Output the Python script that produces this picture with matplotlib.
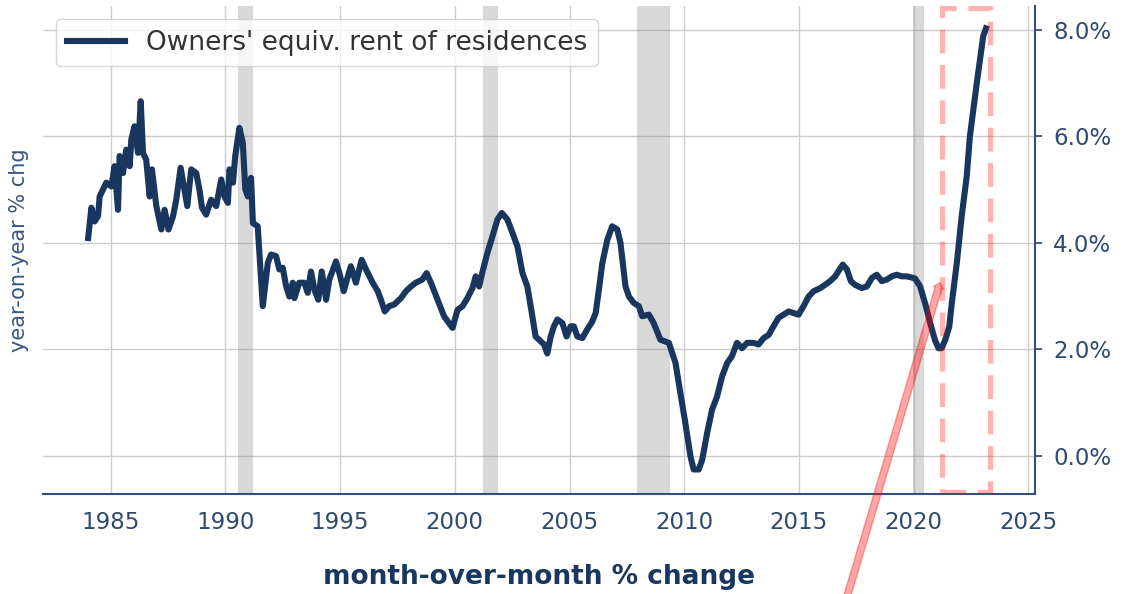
import matplotlib.pyplot as plt
from matplotlib.patches import Rectangle
from matplotlib.ticker import FuncFormatter

# OER year-on-year % change (decimal year, %)
years = [1984.02, 1984.16, 1984.30, 1984.45, 1984.52, 1984.81, 1985.03, 1985.17, 1985.32, 1985.39,
         1985.54, 1985.68, 1985.83, 1985.90, 1986.04, 1986.19, 1986.31, 1986.41, 1986.55, 1986.70,
         1986.80, 1986.99, 1987.21, 1987.35, 1987.52, 1987.72, 1987.86, 1988.05, 1988.19, 1988.34,
         1988.51, 1988.73, 1988.87, 1988.98, 1989.16, 1989.38, 1989.60, 1989.82, 1989.96, 1990.11,
         1990.18, 1990.33, 1990.43, 1990.61, 1990.76, 1990.87, 1990.98, 1991.12, 1991.20, 1991.41,
         1991.63, 1991.85, 1991.99, 1992.21, 1992.35, 1992.50, 1992.65, 1992.79, 1992.94, 1993.01,
         1993.22, 1993.44, 1993.59, 1993.73, 1993.88, 1994.05, 1994.20, 1994.39, 1994.53, 1994.82,
         1994.97, 1995.16, 1995.30, 1995.47, 1995.69, 1995.94, 1996.13, 1996.42, 1996.64, 1996.78,
         1996.95, 1997.14, 1997.36, 1997.65, 1997.87, 1998.09, 1998.30, 1998.59, 1998.77, 1998.96,
         1999.25, 1999.53, 1999.90, 2000.12, 2000.34, 2000.55, 2000.77, 2000.91, 2001.06, 2001.21,
         2001.42, 2001.64, 2001.86, 2002.05, 2002.29, 2002.51, 2002.73, 2002.95, 2003.16, 2003.38,
         2003.52, 2003.74, 2003.89, 2004.03, 2004.18, 2004.32, 2004.47, 2004.69, 2004.87, 2005.05,
         2005.19, 2005.34, 2005.56, 2005.77, 2005.99, 2006.14, 2006.28, 2006.43, 2006.65, 2006.86,
         2007.08, 2007.22, 2007.34, 2007.44, 2007.59, 2007.80, 2008.02, 2008.17, 2008.46, 2008.67,
         2008.96, 2009.33, 2009.62, 2009.83, 2010.05, 2010.27, 2010.41, 2010.63, 2010.78, 2011.00,
         2011.21, 2011.43, 2011.65, 2011.87, 2012.08, 2012.30, 2012.52, 2012.74, 2013.02, 2013.24,
         2013.46, 2013.68, 2013.89, 2014.11, 2014.33, 2014.55, 2014.77, 2014.98, 2015.20, 2015.42,
         2015.64, 2015.93, 2016.14, 2016.36, 2016.58, 2016.77, 2016.91, 2017.09, 2017.26, 2017.45,
         2017.74, 2017.96, 2018.18, 2018.39, 2018.61, 2018.83, 2019.05, 2019.26, 2019.48, 2019.70,
         2020.06, 2020.28, 2020.50, 2020.72, 2020.93, 2021.08, 2021.22, 2021.37, 2021.55, 2021.66,
         2021.88, 2022.09, 2022.31, 2022.45, 2022.60, 2022.75, 2022.89, 2023.03, 2023.15]
oer = [4.09, 4.66, 4.40, 4.50, 4.87, 5.13, 5.06, 5.44, 4.62, 5.63,
       5.31, 5.75, 5.44, 5.94, 6.19, 5.69, 6.66, 5.69, 5.56, 4.87,
       5.38, 4.69, 4.25, 4.62, 4.25, 4.50, 4.81, 5.41, 5.06, 4.69,
       5.38, 5.31, 5.00, 4.66, 4.53, 4.81, 4.69, 5.19, 4.87, 4.75,
       5.38, 5.13, 5.63, 6.16, 5.88, 5.00, 4.87, 5.22, 4.37, 4.31,
       2.81, 3.62, 3.78, 3.75, 3.50, 3.53, 3.18, 2.99, 3.25, 2.96,
       3.25, 3.25, 3.06, 3.46, 3.12, 2.93, 3.46, 2.93, 3.31, 3.65,
       3.43, 3.09, 3.31, 3.56, 3.25, 3.68, 3.50, 3.25, 3.09, 2.93,
       2.71, 2.81, 2.84, 2.96, 3.09, 3.18, 3.25, 3.31, 3.43, 3.25,
       2.93, 2.62, 2.40, 2.74, 2.81, 2.96, 3.15, 3.37, 3.18, 3.46,
       3.81, 4.12, 4.44, 4.56, 4.44, 4.19, 3.93, 3.43, 3.18, 2.62,
       2.24, 2.15, 2.09, 1.92, 2.24, 2.43, 2.56, 2.49, 2.24, 2.43,
       2.43, 2.24, 2.21, 2.37, 2.52, 2.68, 3.12, 3.62, 4.06, 4.31,
       4.25, 4.00, 3.56, 3.18, 2.99, 2.87, 2.81, 2.62, 2.65, 2.49,
       2.18, 2.12, 1.74, 1.18, 0.61, -0.01, -0.26, -0.26, -0.08, 0.43,
       0.86, 1.11, 1.49, 1.74, 1.87, 2.12, 2.02, 2.12, 2.12, 2.09,
       2.21, 2.27, 2.43, 2.59, 2.65, 2.71, 2.68, 2.65, 2.81, 2.99,
       3.09, 3.15, 3.21, 3.28, 3.37, 3.50, 3.59, 3.50, 3.28, 3.21,
       3.15, 3.18, 3.34, 3.40, 3.28, 3.31, 3.37, 3.40, 3.37, 3.37,
       3.33, 3.18, 2.86, 2.49, 2.17, 2.02, 2.02, 2.17, 2.42, 2.86,
       3.62, 4.49, 5.24, 6.00, 6.50, 7.00, 7.44, 7.88, 8.03]

# recession shading (start, end)
rec_start = [1990.56, 2001.22, 2007.96, 2019.95]
rec_end = [1991.21, 2001.87, 2009.40, 2020.46]

# highlight box and arrow
box_x = [2021.22, 2023.32]
box_y = [-0.68, 8.42]
arrow_tip = (2021.15, 3.25)
arrow_tail = (2016.54, -3.46)

navy = '#19365e'
tick_col = '#2e4a70'

fig = plt.figure(figsize=(11.22, 5.94), dpi=100)
ax = fig.add_axes([0.0383, 0.1684, 0.8842, 0.8215])

for s, e in zip(rec_start, rec_end):
    ax.axvspan(s, e, color='grey', alpha=0.3, lw=0, zorder=1)

ax.plot(years, oer, color=navy, lw=4.4, label="Owners' equiv. rent of residences", zorder=3)

ax.add_patch(Rectangle((box_x[0], box_y[0]), box_x[1] - box_x[0], box_y[1] - box_y[0],
                       fill=False, ec='red', alpha=0.3, lw=3.8, ls=(0, (4.5, 2.2)), zorder=4))
ax.annotate('', xy=arrow_tip, xytext=arrow_tail, annotation_clip=False,
            arrowprops=dict(color='red', alpha=0.35, width=5, headwidth=8, headlength=4, shrink=0))

ax.set_xlim(1982.05, 2025.29)
ax.set_ylim(-0.72, 8.45)
ax.set_xticks(range(1985, 2030, 5))
ax.set_yticks([0, 2, 4, 6, 8])
ax.yaxis.set_major_formatter(FuncFormatter(lambda v, p: f'{v:.1f}%'))
ax.yaxis.tick_right()
ax.yaxis.set_label_position('left')

ax.grid(True, color='#cccccc', lw=1)
ax.set_axisbelow(True)
for side in ['left', 'top']:
    ax.spines[side].set_visible(False)
for side in ['bottom', 'right']:
    ax.spines[side].set_color('#34507a')
    ax.spines[side].set_linewidth(1.5)

ax.tick_params(axis='x', length=0, pad=12, labelsize=16.5, labelcolor=tick_col)
ax.tick_params(axis='y', length=5, width=1.3, color='#34507a', pad=8, labelsize=16.5, labelcolor=tick_col)

ax.set_ylabel('year-on-year % chg', fontsize=15, color='#3a5680', labelpad=10)
ax.set_xlabel('month-over-month % change', fontsize=19, fontweight='bold', color=navy, labelpad=22)

leg = ax.legend(loc='upper left', fontsize=19, framealpha=0.8, edgecolor='#cccccc', handlelength=2.2)
for t in leg.get_texts():
    t.set_color('#333333')

fig.savefig('out.png', dpi=100)
